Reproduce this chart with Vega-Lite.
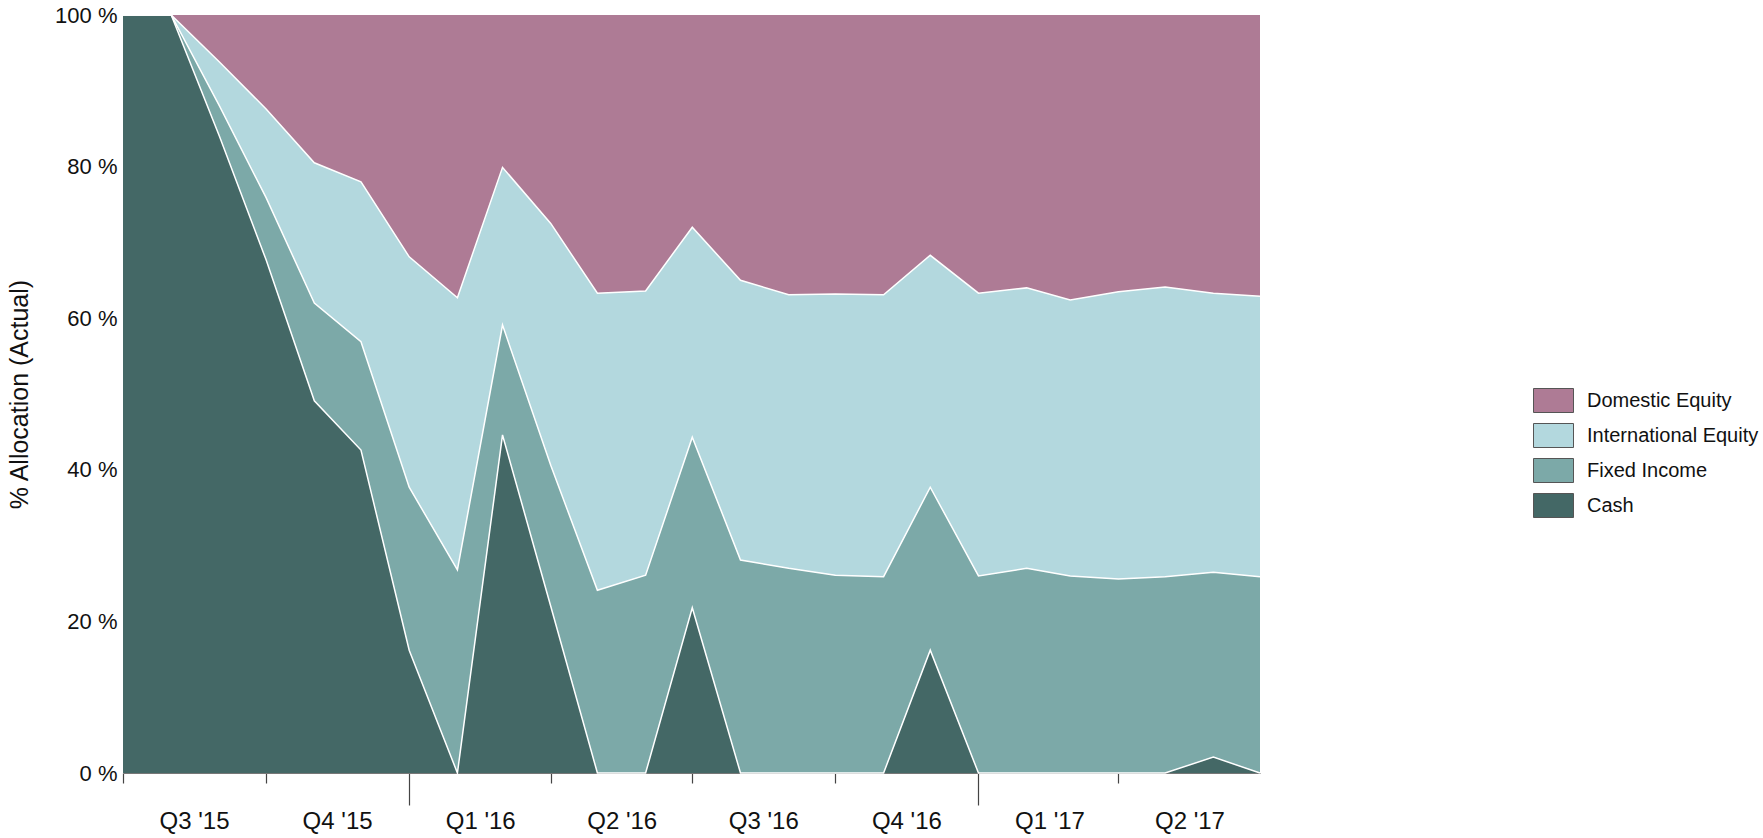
{
  "$schema": "https://vega.github.io/schema/vega-lite/v6.json",
  "width": 1137,
  "height": 758,
  "autosize": {"type": "none"},
  "padding": {"left": 123, "top": 15, "right": 503, "bottom": 65},
  "background": "white",
  "config": {"font": "Liberation Sans", "view": {"stroke": null}},
  "datasets": {
    "alloc": [
      {"date": "2015-07-01", "asset": "Cash", "pct": 100, "rank": 1},
      {"date": "2015-07-01", "asset": "Fixed Income", "pct": 0, "rank": 2},
      {"date": "2015-07-01", "asset": "International Equity", "pct": 0, "rank": 3},
      {"date": "2015-07-01", "asset": "Domestic Equity", "pct": 0, "rank": 4},
      {"date": "2015-08-01", "asset": "Cash", "pct": 100, "rank": 1},
      {"date": "2015-08-01", "asset": "Fixed Income", "pct": 0, "rank": 2},
      {"date": "2015-08-01", "asset": "International Equity", "pct": 0, "rank": 3},
      {"date": "2015-08-01", "asset": "Domestic Equity", "pct": 0, "rank": 4},
      {"date": "2015-09-01", "asset": "Cash", "pct": 84.0, "rank": 1},
      {"date": "2015-09-01", "asset": "Fixed Income", "pct": 4.0, "rank": 2},
      {"date": "2015-09-01", "asset": "International Equity", "pct": 5.8, "rank": 3},
      {"date": "2015-09-01", "asset": "Domestic Equity", "pct": 6.2, "rank": 4},
      {"date": "2015-10-01", "asset": "Cash", "pct": 67.7, "rank": 1},
      {"date": "2015-10-01", "asset": "Fixed Income", "pct": 8.2, "rank": 2},
      {"date": "2015-10-01", "asset": "International Equity", "pct": 11.7, "rank": 3},
      {"date": "2015-10-01", "asset": "Domestic Equity", "pct": 12.4, "rank": 4},
      {"date": "2015-11-01", "asset": "Cash", "pct": 49.1, "rank": 1},
      {"date": "2015-11-01", "asset": "Fixed Income", "pct": 12.9, "rank": 2},
      {"date": "2015-11-01", "asset": "International Equity", "pct": 18.5, "rank": 3},
      {"date": "2015-11-01", "asset": "Domestic Equity", "pct": 19.5, "rank": 4},
      {"date": "2015-12-01", "asset": "Cash", "pct": 42.6, "rank": 1},
      {"date": "2015-12-01", "asset": "Fixed Income", "pct": 14.3, "rank": 2},
      {"date": "2015-12-01", "asset": "International Equity", "pct": 21.1, "rank": 3},
      {"date": "2015-12-01", "asset": "Domestic Equity", "pct": 22.0, "rank": 4},
      {"date": "2016-01-01", "asset": "Cash", "pct": 16.2, "rank": 1},
      {"date": "2016-01-01", "asset": "Fixed Income", "pct": 21.5, "rank": 2},
      {"date": "2016-01-01", "asset": "International Equity", "pct": 30.4, "rank": 3},
      {"date": "2016-01-01", "asset": "Domestic Equity", "pct": 31.9, "rank": 4},
      {"date": "2016-02-01", "asset": "Cash", "pct": 0, "rank": 1},
      {"date": "2016-02-01", "asset": "Fixed Income", "pct": 26.8, "rank": 2},
      {"date": "2016-02-01", "asset": "International Equity", "pct": 35.9, "rank": 3},
      {"date": "2016-02-01", "asset": "Domestic Equity", "pct": 37.3, "rank": 4},
      {"date": "2016-03-01", "asset": "Cash", "pct": 44.6, "rank": 1},
      {"date": "2016-03-01", "asset": "Fixed Income", "pct": 14.5, "rank": 2},
      {"date": "2016-03-01", "asset": "International Equity", "pct": 20.8, "rank": 3},
      {"date": "2016-03-01", "asset": "Domestic Equity", "pct": 20.1, "rank": 4},
      {"date": "2016-04-01", "asset": "Cash", "pct": 22.0, "rank": 1},
      {"date": "2016-04-01", "asset": "Fixed Income", "pct": 18.6, "rank": 2},
      {"date": "2016-04-01", "asset": "International Equity", "pct": 31.9, "rank": 3},
      {"date": "2016-04-01", "asset": "Domestic Equity", "pct": 27.5, "rank": 4},
      {"date": "2016-05-01", "asset": "Cash", "pct": 0, "rank": 1},
      {"date": "2016-05-01", "asset": "Fixed Income", "pct": 24.1, "rank": 2},
      {"date": "2016-05-01", "asset": "International Equity", "pct": 39.2, "rank": 3},
      {"date": "2016-05-01", "asset": "Domestic Equity", "pct": 36.7, "rank": 4},
      {"date": "2016-06-01", "asset": "Cash", "pct": 0, "rank": 1},
      {"date": "2016-06-01", "asset": "Fixed Income", "pct": 26.1, "rank": 2},
      {"date": "2016-06-01", "asset": "International Equity", "pct": 37.5, "rank": 3},
      {"date": "2016-06-01", "asset": "Domestic Equity", "pct": 36.4, "rank": 4},
      {"date": "2016-07-01", "asset": "Cash", "pct": 21.8, "rank": 1},
      {"date": "2016-07-01", "asset": "Fixed Income", "pct": 22.5, "rank": 2},
      {"date": "2016-07-01", "asset": "International Equity", "pct": 27.7, "rank": 3},
      {"date": "2016-07-01", "asset": "Domestic Equity", "pct": 28.0, "rank": 4},
      {"date": "2016-08-01", "asset": "Cash", "pct": 0, "rank": 1},
      {"date": "2016-08-01", "asset": "Fixed Income", "pct": 28.1, "rank": 2},
      {"date": "2016-08-01", "asset": "International Equity", "pct": 36.9, "rank": 3},
      {"date": "2016-08-01", "asset": "Domestic Equity", "pct": 35.0, "rank": 4},
      {"date": "2016-09-01", "asset": "Cash", "pct": 0, "rank": 1},
      {"date": "2016-09-01", "asset": "Fixed Income", "pct": 27.0, "rank": 2},
      {"date": "2016-09-01", "asset": "International Equity", "pct": 36.1, "rank": 3},
      {"date": "2016-09-01", "asset": "Domestic Equity", "pct": 36.9, "rank": 4},
      {"date": "2016-10-01", "asset": "Cash", "pct": 0, "rank": 1},
      {"date": "2016-10-01", "asset": "Fixed Income", "pct": 26.1, "rank": 2},
      {"date": "2016-10-01", "asset": "International Equity", "pct": 37.1, "rank": 3},
      {"date": "2016-10-01", "asset": "Domestic Equity", "pct": 36.8, "rank": 4},
      {"date": "2016-11-01", "asset": "Cash", "pct": 0, "rank": 1},
      {"date": "2016-11-01", "asset": "Fixed Income", "pct": 25.9, "rank": 2},
      {"date": "2016-11-01", "asset": "International Equity", "pct": 37.2, "rank": 3},
      {"date": "2016-11-01", "asset": "Domestic Equity", "pct": 36.9, "rank": 4},
      {"date": "2016-12-01", "asset": "Cash", "pct": 16.2, "rank": 1},
      {"date": "2016-12-01", "asset": "Fixed Income", "pct": 21.5, "rank": 2},
      {"date": "2016-12-01", "asset": "International Equity", "pct": 30.6, "rank": 3},
      {"date": "2016-12-01", "asset": "Domestic Equity", "pct": 31.7, "rank": 4},
      {"date": "2017-01-01", "asset": "Cash", "pct": 0, "rank": 1},
      {"date": "2017-01-01", "asset": "Fixed Income", "pct": 26.0, "rank": 2},
      {"date": "2017-01-01", "asset": "International Equity", "pct": 37.3, "rank": 3},
      {"date": "2017-01-01", "asset": "Domestic Equity", "pct": 36.7, "rank": 4},
      {"date": "2017-02-01", "asset": "Cash", "pct": 0, "rank": 1},
      {"date": "2017-02-01", "asset": "Fixed Income", "pct": 27.0, "rank": 2},
      {"date": "2017-02-01", "asset": "International Equity", "pct": 37.0, "rank": 3},
      {"date": "2017-02-01", "asset": "Domestic Equity", "pct": 36.0, "rank": 4},
      {"date": "2017-03-01", "asset": "Cash", "pct": 0, "rank": 1},
      {"date": "2017-03-01", "asset": "Fixed Income", "pct": 26.0, "rank": 2},
      {"date": "2017-03-01", "asset": "International Equity", "pct": 36.4, "rank": 3},
      {"date": "2017-03-01", "asset": "Domestic Equity", "pct": 37.6, "rank": 4},
      {"date": "2017-04-01", "asset": "Cash", "pct": 0, "rank": 1},
      {"date": "2017-04-01", "asset": "Fixed Income", "pct": 25.6, "rank": 2},
      {"date": "2017-04-01", "asset": "International Equity", "pct": 37.9, "rank": 3},
      {"date": "2017-04-01", "asset": "Domestic Equity", "pct": 36.5, "rank": 4},
      {"date": "2017-05-01", "asset": "Cash", "pct": 0, "rank": 1},
      {"date": "2017-05-01", "asset": "Fixed Income", "pct": 25.9, "rank": 2},
      {"date": "2017-05-01", "asset": "International Equity", "pct": 38.2, "rank": 3},
      {"date": "2017-05-01", "asset": "Domestic Equity", "pct": 35.9, "rank": 4},
      {"date": "2017-06-01", "asset": "Cash", "pct": 2.1, "rank": 1},
      {"date": "2017-06-01", "asset": "Fixed Income", "pct": 24.4, "rank": 2},
      {"date": "2017-06-01", "asset": "International Equity", "pct": 36.8, "rank": 3},
      {"date": "2017-06-01", "asset": "Domestic Equity", "pct": 36.7, "rank": 4},
      {"date": "2017-07-01", "asset": "Cash", "pct": 0, "rank": 1},
      {"date": "2017-07-01", "asset": "Fixed Income", "pct": 25.9, "rank": 2},
      {"date": "2017-07-01", "asset": "International Equity", "pct": 37.0, "rank": 3},
      {"date": "2017-07-01", "asset": "Domestic Equity", "pct": 37.1, "rank": 4}
    ]
  },
  "data": {"name": "alloc"},
  "encoding": {
    "x": {
      "field": "date",
      "type": "temporal",
      "scale": {
        "type": "utc",
        "nice": false,
        "domain": [
          {"year": 2015, "month": 7, "date": 1, "utc": true},
          {"year": 2017, "month": 7, "date": 1, "utc": true}
        ]
      },
      "axis": {
        "title": null,
        "grid": false,
        "values": [
          {"year": 2015, "month": 7, "date": 1, "utc": true},
          {"year": 2015, "month": 10, "date": 1, "utc": true},
          {"year": 2016, "month": 1, "date": 1, "utc": true},
          {"year": 2016, "month": 4, "date": 1, "utc": true},
          {"year": 2016, "month": 7, "date": 1, "utc": true},
          {"year": 2016, "month": 10, "date": 1, "utc": true},
          {"year": 2017, "month": 1, "date": 1, "utc": true},
          {"year": 2017, "month": 4, "date": 1, "utc": true}
        ],
        "labelExpr": "'Q' + utcquarter(datum.value) + \" '\" + (utcyear(datum.value) % 100)",
        "labelAlign": "center",
        "labelOffset": 71,
        "labelFlush": false,
        "labelOverlap": false,
        "labelFontSize": 24,
        "labelColor": "#111111",
        "labelPadding": {"condition": {"test": "utcmonth(datum.value) === 0", "value": 4}, "value": 26},
        "tickSize": {"condition": {"test": "utcmonth(datum.value) === 0", "value": 32}, "value": 10},
        "tickColor": "#444444",
        "tickWidth": 1.2,
        "domainColor": "#777777",
        "domainWidth": 1
      }
    },
    "y": {
      "field": "pct",
      "type": "quantitative",
      "stack": "zero",
      "scale": {"domain": [0, 100], "nice": false},
      "axis": {
        "title": "% Allocation (Actual)",
        "values": [0, 20, 40, 60, 80, 100],
        "labelExpr": "datum.value + ' %'",
        "grid": false,
        "domain": false,
        "ticks": false,
        "tickSize": 0,
        "labelPadding": 6,
        "labelFontSize": 22,
        "labelColor": "#111111",
        "titleFontSize": 25,
        "titleFontWeight": "normal",
        "titleColor": "#111111",
        "titlePadding": 22
      }
    },
    "order": {"field": "rank", "type": "quantitative"}
  },
  "layer": [
    {
      "mark": {"type": "area", "interpolate": "linear", "opacity": 1},
      "encoding": {
        "color": {
          "field": "asset",
          "type": "nominal",
          "scale": {
            "domain": ["Domestic Equity", "International Equity", "Fixed Income", "Cash"],
            "range": ["#AE7B95", "#B3D8DE", "#7CA9A8", "#446866"]
          },
          "legend": {
            "title": null,
            "orient": "none",
            "legendX": 1410,
            "legendY": 365,
            "symbolType": "M-1,-0.6H1V0.6H-1Z",
            "symbolSize": 1600,
            "symbolStrokeColor": "#555555",
            "symbolStrokeWidth": 1,
            "symbolOpacity": 1,
            "labelFontSize": 20,
            "labelColor": "#111111",
            "labelOffset": 13,
            "labelLimit": 0,
            "rowPadding": -6
          }
        }
      }
    },
    {
      "transform": [{"filter": "datum.asset !== 'Domestic Equity'"}],
      "mark": {"type": "line", "interpolate": "linear", "color": "white", "strokeWidth": 1.5},
      "encoding": {
        "detail": {"field": "asset", "type": "nominal"}
      }
    }
  ]
}
